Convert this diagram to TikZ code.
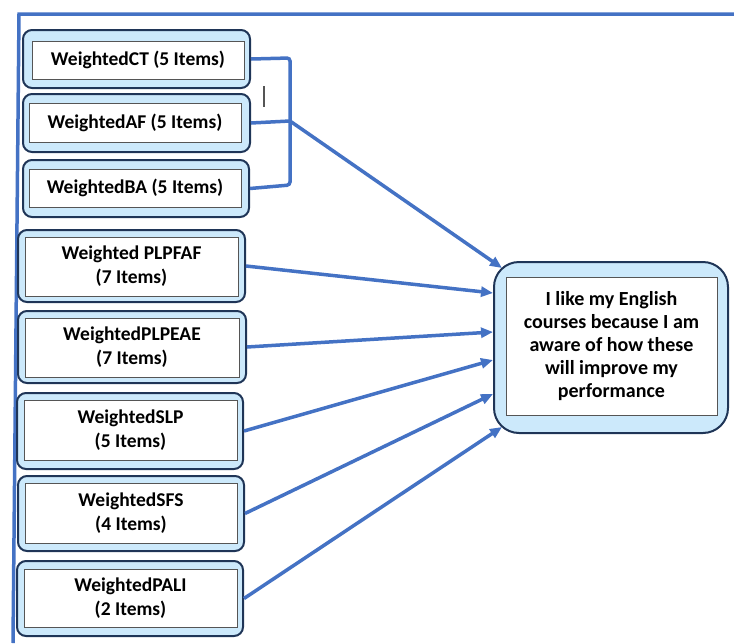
\documentclass[tikz,border=0pt]{standalone}
\usepackage{fontspec}
\setmainfont{Carlito}
\usetikzlibrary{arrows.meta}
\definecolor{lnblue}{HTML}{4472C4}
\definecolor{boxfill}{HTML}{CCE9FB}
\definecolor{navy}{HTML}{1F3557}
\definecolor{innergray}{HTML}{555555}
\tikzset{
  outerbox/.style={draw=navy, line width=2pt, fill=boxfill, rounded corners=9pt, inner sep=0pt},
  innerbox/.style={draw=innergray, line width=1pt, fill=white, inner sep=0pt, align=center,
     font=\fontsize{19.5}{24}\selectfont\bfseries},
  link/.style={draw=lnblue, line width=3.5pt},
  arr/.style={link, -{Triangle[length=12pt,width=10pt]}}
}
\begin{document}
\begin{tikzpicture}[x=1pt,y=-1pt]
\useasboundingbox (0,0) rectangle (734,643);
% frame
\coordinate (f1) at (734,14);
\coordinate (f2) at (19,14);
\coordinate (f3) at (13,643);
\draw[link, line join=miter] (f1) -- (f2) -- (f3);
% left boxes
\node[outerbox, minimum width=227pt, minimum height=58pt] (CT) at (136.5,59) {};
\node[innerbox, minimum width=212pt, minimum height=38pt] (CTi) at (138,60) {WeightedCT (5 Items)};
\node[outerbox, minimum width=227pt, minimum height=58pt] (AF) at (136.5,123) {};
\node[innerbox, minimum width=212pt, minimum height=39pt] (AFi) at (135,122.5) {WeightedAF (5 Items)};
\node[outerbox, minimum width=226pt, minimum height=57pt] (BA) at (136,188.5) {};
\node[innerbox, minimum width=212pt, minimum height=38pt] (BAi) at (135,188) {WeightedBA (5 Items)};
\node[outerbox, minimum width=227pt, minimum height=72pt] (PF) at (131.5,266) {};
\node[innerbox, minimum width=213pt, minimum height=59pt] (PFi) at (131.5,266.5) {Weighted PLPFAF\\(7 Items)};
\node[outerbox, minimum width=228pt, minimum height=72pt] (PE) at (132,347) {};
\node[innerbox, minimum width=214pt, minimum height=59pt] (PEi) at (132,347.5) {WeightedPLPEAE\\(7 Items)};
\node[outerbox, minimum width=226pt, minimum height=76pt] (SLP) at (130,431) {};
\node[innerbox, minimum width=213pt, minimum height=60pt] (SLPi) at (130.5,430) {WeightedSLP\\(5 Items)};
\node[outerbox, minimum width=226pt, minimum height=75pt] (SFS) at (131,513.5) {};
\node[innerbox, minimum width=212pt, minimum height=60pt] (SFSi) at (131,513) {WeightedSFS\\(4 Items)};
\node[outerbox, minimum width=226pt, minimum height=75pt] (PALI) at (130,598.5) {};
\node[innerbox, minimum width=213pt, minimum height=58pt] (PALIi) at (130.5,598) {WeightedPALI\\(2 Items)};
% target
\node[outerbox, rounded corners=25pt, minimum width=234pt, minimum height=171pt] (T) at (611,347.5) {};
\node[innerbox, minimum width=211pt, minimum height=138pt, font=\fontsize{20}{23}\selectfont\bfseries] (Ti) at (611.5,346) {I like my English\\courses because I am\\aware of how these\\will improve my\\performance};
% bracket
\coordinate (J) at (290,121);
\draw[link, rounded corners=3pt] (CT.east) -- (290,58) -- (290,185) -- (BA.east);
\draw[link] (AF.east) -- (J);
% stray mark
\coordinate (m1) at (264,86);
\coordinate (m2) at (264,107);
\draw[innergray, line width=1.2pt] (m1) -- (m2);
% arrow ends
\coordinate (tA) at (502,268);
\coordinate (tB) at (493,293);
\coordinate (tC) at (493,332);
\coordinate (tD) at (493,360);
\coordinate (tE) at (493,394);
\coordinate (tF) at (502,427);
\draw[arr] (J) -- (tA);
\draw[arr] (PF.east) -- (tB);
\draw[arr] (PE.east) -- (tC);
\draw[arr] (SLP.east) -- (tD);
\draw[arr] (SFS.east) -- (tE);
\draw[arr] (PALI.east) -- (tF);
\end{tikzpicture}
\end{document}
